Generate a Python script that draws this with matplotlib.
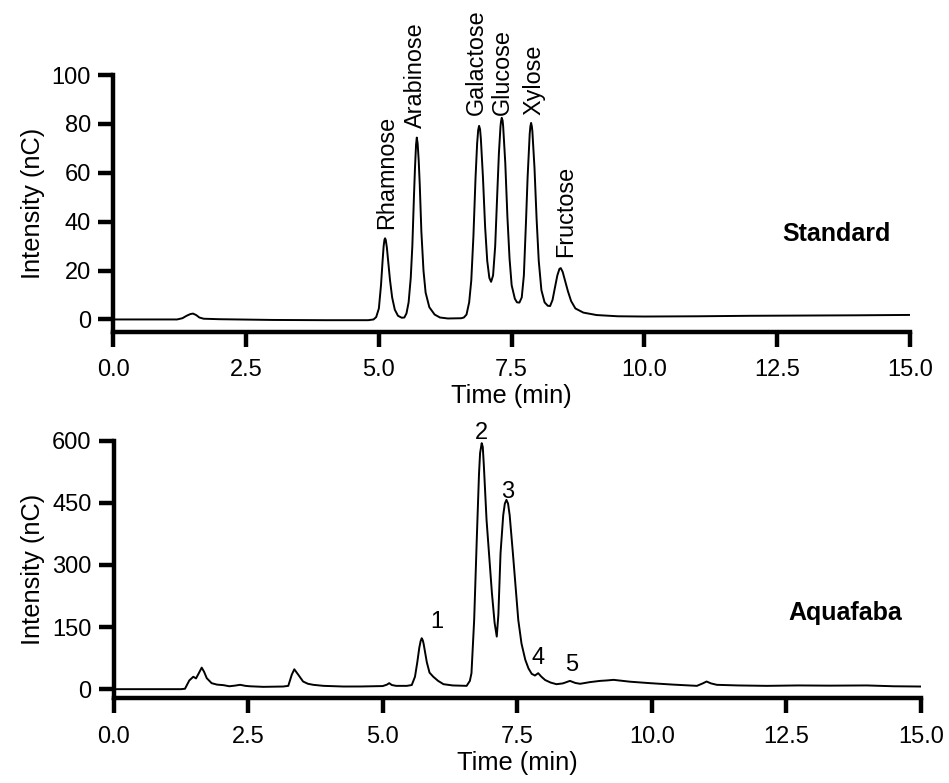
import matplotlib
matplotlib.use('Agg')
from matplotlib import pyplot as plt

plt.rcParams['font.family'] = ['Liberation Sans', 'DejaVu Sans']

# standard mix trace: time (min), intensity (nC)
std_time = [0.0, 1.2, 1.3, 1.38, 1.45, 1.5, 1.56, 1.62, 1.7, 2.0, 3.0, 4.0, 4.8, 4.9,
            4.95, 5.0, 5.04, 5.07, 5.09, 5.105, 5.117, 5.13, 5.15, 5.17, 5.21, 5.25, 5.30, 5.36, 5.43,
            5.48, 5.52, 5.56, 5.60, 5.63, 5.66, 5.68, 5.70, 5.714, 5.73, 5.75, 5.77, 5.80, 5.84, 5.88,
            5.95, 6.05, 6.15, 6.3, 6.55,
            6.60, 6.65, 6.70, 6.74, 6.78, 6.82, 6.85, 6.87, 6.887, 6.905, 6.92, 6.96, 7.00, 7.04,
            7.08, 7.113,
            7.15, 7.19, 7.23, 7.26, 7.29, 7.30, 7.314, 7.33, 7.34, 7.38, 7.42, 7.46, 7.50, 7.56,
            7.60, 7.646,
            7.69, 7.73, 7.77, 7.80, 7.84, 7.853, 7.866, 7.88, 7.89, 7.93, 7.97, 8.01, 8.06, 8.12,
            8.18, 8.224,
            8.27, 8.31, 8.36, 8.40, 8.425, 8.46, 8.51, 8.56, 8.62, 8.70, 8.85, 9.1, 9.5,
            10.0, 11.0, 12.0, 13.0, 14.0, 15.0]
std_signal = [0.0, 0.0, 0.5, 1.5, 2.2, 2.4, 1.8, 0.8, 0.3, 0.1, -0.2, -0.3, -0.3, 0.0,
              1.0, 4.5, 14.0, 24.0, 30.0, 32.6, 33.2, 32.5, 29.5, 25.0, 16.0, 9.0, 4.0, 1.5, 0.7,
              0.8, 2.5, 7.0, 17.0, 30.0, 50.0, 62.0, 71.5, 74.4, 72.0, 65.0, 55.0, 36.0, 20.0, 11.0,
              5.0, 2.0, 0.8, 0.4, 0.5,
              0.8, 2.0, 7.0, 16.0, 34.0, 58.0, 72.0, 77.5, 79.2, 77.8, 74.0, 58.0, 38.0, 24.0,
              17.0, 15.4,
              18.0, 30.0, 52.0, 68.0, 79.0, 81.0, 82.5, 81.3, 79.0, 64.0, 42.0, 25.0, 14.0, 8.5,
              7.0, 6.9,
              9.0, 18.0, 40.0, 58.0, 76.0, 79.0, 80.4, 79.0, 77.0, 62.0, 41.0, 24.0, 12.0, 7.0,
              5.6, 5.5,
              8.0, 12.5, 18.0, 20.7, 21.0, 19.5, 15.5, 11.5, 7.5, 4.5, 2.8, 1.8, 1.3,
              1.2, 1.3, 1.5, 1.6, 1.7, 1.85]

# aquafaba hydrolysate trace
aq_time = [0.0, 1.25, 1.325, 1.405, 1.48, 1.53, 1.58, 1.636, 1.68, 1.73, 1.82, 1.92, 2.04,
           2.15, 2.25, 2.35, 2.45, 2.53, 2.78, 3.15, 3.245, 3.31, 3.357, 3.43, 3.52, 3.61,
           3.71, 3.9, 4.27, 4.6, 5.0, 5.08, 5.12, 5.17, 5.25, 5.45, 5.54, 5.60, 5.643, 5.68,
           5.705, 5.725, 5.745, 5.76, 5.82, 5.87, 5.94, 6.03, 6.13, 6.3, 6.56, 6.62, 6.65, 6.70,
           6.75, 6.79, 6.81, 6.84, 6.86, 6.88, 6.93, 7.03, 7.08, 7.12, 7.15, 7.19, 7.24, 7.27,
           7.30, 7.33, 7.36, 7.42, 7.52, 7.58, 7.65, 7.71, 7.77, 7.83, 7.89, 7.95, 8.02,
           8.12, 8.23, 8.35, 8.48, 8.58, 8.67, 8.85, 9.04, 9.16, 9.29, 9.6, 9.97, 10.4,
           10.84, 10.95, 11.02, 11.1, 11.21, 11.6, 12.14, 12.72, 13.3, 14.0, 14.5, 14.99]
aq_signal = [0.0, 0.0, 1.0, 21.0, 30.0, 26.0, 38.0, 52.0, 42.0, 26.5, 14.5, 11.0, 9.7,
             7.0, 8.5, 10.5, 8.0, 7.0, 5.6, 6.4, 8.0, 35.0, 48.0, 35.0, 18.5, 13.0,
             10.5, 8.0, 6.4, 6.5, 7.5, 11.0, 14.5, 10.0, 8.0, 8.0, 10.0, 30.0, 65.0, 100.0,
             116.0, 123.0, 118.0, 110.0, 65.0, 40.0, 30.0, 20.0, 12.0, 9.0, 8.0, 20.0, 38.6, 167.0,
             368.0, 520.0, 570.0, 594.0, 585.0, 540.0, 409.0, 232.0, 160.0, 127.0, 180.0, 328.0,
             420.0, 448.0, 457.0, 448.0, 420.0, 328.0, 167.0, 110.0, 71.0, 50.0, 37.0, 33.0,
             38.6, 30.0, 22.0, 16.0, 12.0, 14.0, 20.0, 15.0, 13.0, 17.0, 20.0, 21.0, 22.5,
             18.0, 14.5, 11.0, 8.0, 14.0, 18.5, 14.0, 10.5, 9.0, 8.0, 9.0, 8.5, 9.0, 7.0, 6.4]

sugars = ['Rhamnose', 'Arabinose', 'Galactose', 'Glucose', 'Xylose', 'Fructose']
sugar_t = [5.15, 5.68, 6.84, 7.33, 7.92, 8.51]
sugar_y = [37.2, 78.5, 83.6, 83.6, 83.6, 25.4]

peak_ids = ['1', '2', '3', '4', '5']
peak_t = [6.01, 6.84, 7.33, 7.89, 8.51]
peak_y = [163, 618, 477, 75, 59]

std_ticks = [0, 20, 40, 60, 80, 100]
aq_ticks = [0, 150, 300, 450, 600]
time_ticks = [0.0, 2.5, 5.0, 7.5, 10.0, 12.5, 15.0]


def style_axis(ax):
    for side in ['top', 'right']:
        ax.spines[side].set_visible(False)
    for side in ['left', 'bottom']:
        ax.spines[side].set_linewidth(3.2)
    ax.tick_params(width=3.2, length=11, labelsize=17, direction='out')
    ax.tick_params(axis='x', pad=9)
    ax.tick_params(axis='y', pad=5)
    ax.set_xticks(time_ticks)
    ax.set_xticklabels(['%.1f' % v for v in time_ticks])
    ax.set_xlim(0, 15)
    ax.set_xlabel('Time (min)', fontsize=18.3, labelpad=2)
    ax.set_ylabel('Intensity (nC)', fontsize=18.3, labelpad=5)


fig = plt.figure(figsize=(9.49, 7.83), dpi=100)
ax1 = fig.add_axes([0.1194, 0.5764, 0.8395, 0.3278])
ax2 = fig.add_axes([0.1198, 0.1082, 0.8504, 0.3290])

# top: standard sugars
ax1.plot(std_time, std_signal, 'k-', lw=1.4)
style_axis(ax1)
ax1.set_ylim(-5, 100)
ax1.set_yticks(std_ticks)
for name, t, y in zip(sugars, sugar_t, sugar_y):
    ax1.text(t, y, name, rotation=90, ha='center', va='bottom', fontsize=16.8, clip_on=False)
ax1.text(13.61, 35, 'Standard', ha='center', va='center', fontsize=18, fontweight='bold')

# bottom: aquafaba
ax2.plot(aq_time, aq_signal, 'k-', lw=1.4)
style_axis(ax2)
ax2.set_ylim(-22, 600)
ax2.set_yticks(aq_ticks)
for lab, t, y in zip(peak_ids, peak_t, peak_y):
    ax2.text(t, y, lab, ha='center', va='center', fontsize=17, clip_on=False)
ax2.text(13.59, 183, 'Aquafaba', ha='center', va='center', fontsize=18, fontweight='bold')

fig.savefig('out.png', dpi=100)
